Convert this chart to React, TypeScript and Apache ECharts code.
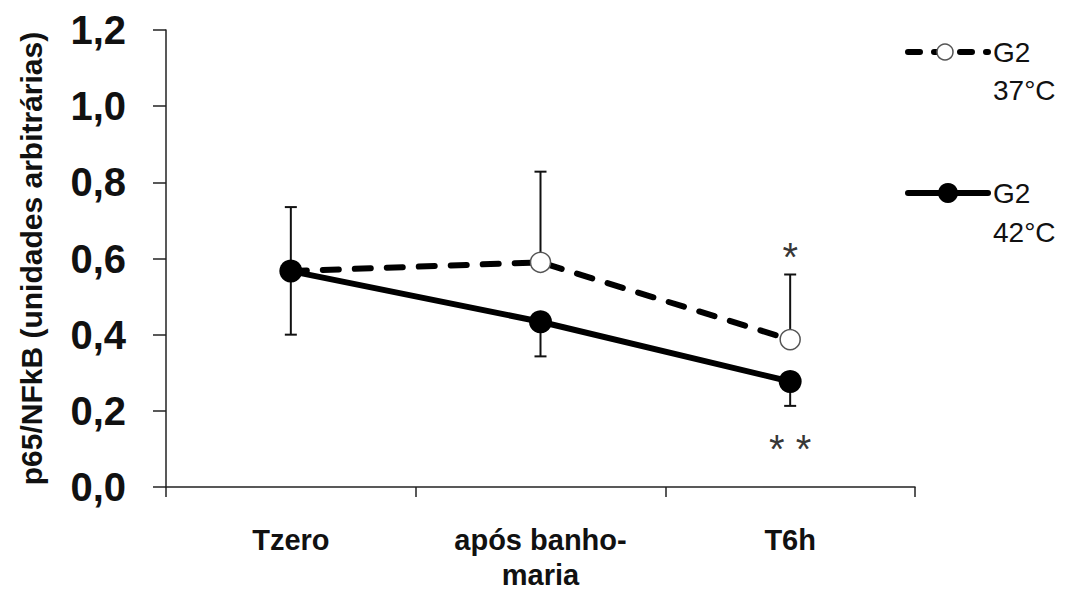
import React, { useEffect, useRef } from "react";
import * as echarts from "echarts";

const categories = ["Tzero", "após banho-\nmaria", "T6h"];
const yTicks = [0, 0.2, 0.4, 0.6, 0.8, 1.0, 1.2];
const g37Mean = [0.567, 0.59, 0.387];
const g37Upper = [0.735, 0.828, 0.558];
const g42Mean = [0.567, 0.434, 0.277];
const g42Lower = [0.4, 0.343, 0.213];
const star37 = [[2, 0.63]];
const star42 = [[2, 0.125]];
const seriesNames = ["G2\n37°C", "G2\n42°C"];

const FONT = "'Liberation Sans', Arial, sans-serif";

function errorRender(params: any, api: any) {
  const x = api.value(0);
  const from = api.coord([x, api.value(1)]);
  const to = api.coord([x, api.value(2)]);
  const hw = 6;
  const st = { stroke: "#111", lineWidth: 2 };
  return {
    type: "group",
    children: [
      { type: "line", shape: { x1: from[0], y1: from[1], x2: to[0], y2: to[1] }, style: st },
      { type: "line", shape: { x1: to[0] - hw, y1: to[1], x2: to[0] + hw, y2: to[1] }, style: st },
    ],
  };
}

export default function App() {
  const ref = useRef<HTMLDivElement>(null);
  useEffect(() => {
    if (!ref.current) return;
    const chart = echarts.init(ref.current, null, { renderer: "svg" });
    const err37 = g37Mean.map((v, i) => [i, v, g37Upper[i]]);
    const err42 = g42Mean.map((v, i) => [i, v, g42Lower[i]]);
    chart.setOption({
      animation: false,
      backgroundColor: "#fff",
      grid: { left: 166, right: 150, top: 30, bottom: 100 },
      xAxis: {
        type: "category",
        data: categories,
        boundaryGap: true,
        axisLine: { lineStyle: { color: "#222", width: 1.5 } },
        axisTick: { show: true, length: 10, lineStyle: { color: "#222", width: 1.5 } },
        axisLabel: {
          color: "#111",
          fontFamily: FONT,
          fontWeight: "bold",
          fontSize: 29,
          lineHeight: 35,
          margin: 35,
          interval: 0,
        },
      },
      yAxis: {
        type: "value",
        min: 0,
        max: 1.2,
        interval: 0.2,
        name: "p65/NFkB (unidades arbitrárias)",
        nameLocation: "middle",
        nameGap: 120,
        nameRotate: 90,
        nameTextStyle: { color: "#111", fontFamily: FONT, fontWeight: "bold", fontSize: 30 },
        splitLine: { show: false },
        axisLine: { show: true, lineStyle: { color: "#222", width: 1.5 } },
        axisTick: { show: true, length: 13, lineStyle: { color: "#222", width: 1.5 } },
        axisLabel: {
          color: "#111",
          fontFamily: FONT,
          fontWeight: "bold",
          fontSize: 40,
          margin: 40,
          formatter: (v: number) => (yTicks.includes(Math.round(v * 10) / 10) ? v.toFixed(1).replace(".", ",") : ""),
        },
      },
      series: [
        { type: "custom", name: "err37", data: err37, renderItem: errorRender, encode: { x: 0, y: [1, 2] }, z: 1 },
        { type: "custom", name: "err42", data: err42, renderItem: errorRender, encode: { x: 0, y: [1, 2] }, z: 1 },
        {
          type: "line",
          name: seriesNames[0],
          data: g37Mean,
          z: 3,
          symbol: "circle",
          symbolSize: 20,
          lineStyle: { color: "#000", width: 6, type: [16, 16], cap: "round" },
          itemStyle: { color: "#fff", borderColor: "#555", borderWidth: 1.5 },
        },
        {
          type: "line",
          name: seriesNames[1],
          data: g42Mean,
          z: 4,
          symbol: "circle",
          symbolSize: 23,
          lineStyle: { color: "#000", width: 6 },
          itemStyle: { color: "#000" },
        },
        {
          type: "scatter",
          data: star37,
          symbolSize: 0,
          z: 5,
          label: { show: true, position: "inside", offset: [0, 10], formatter: "*", color: "#000", fontSize: 40, fontFamily: FONT },
        },
        {
          type: "scatter",
          data: star42,
          symbolSize: 0,
          z: 5,
          label: { show: true, position: "inside", offset: [0, 10], formatter: "* *", color: "#000", fontSize: 40, fontFamily: FONT },
        },
      ],
      graphic: [
        { type: "line", shape: { x1: 908, y1: 52, x2: 988, y2: 52 }, style: { stroke: "#000", lineWidth: 6, lineDash: [12, 14], lineCap: "round" } },
        { type: "circle", shape: { cx: 945, cy: 52, r: 8 }, style: { fill: "#fff", stroke: "#555", lineWidth: 1.5 } },
        { type: "text", x: 993, y: 52, style: { text: "G2", font: `28px ${FONT}`, fill: "#111", verticalAlign: "middle" } },
        { type: "text", x: 993, y: 90, style: { text: "37°C", font: `28px ${FONT}`, fill: "#111", verticalAlign: "middle" } },
        { type: "line", shape: { x1: 908, y1: 193, x2: 988, y2: 193 }, style: { stroke: "#000", lineWidth: 6, lineCap: "round" } },
        { type: "circle", shape: { cx: 948, cy: 193, r: 10 }, style: { fill: "#000" } },
        { type: "text", x: 993, y: 193, style: { text: "G2", font: `28px ${FONT}`, fill: "#111", verticalAlign: "middle" } },
        { type: "text", x: 993, y: 232, style: { text: "42°C", font: `28px ${FONT}`, fill: "#111", verticalAlign: "middle" } },
      ],
    });
    return () => chart.dispose();
  }, []);
  return (
    <div
      ref={ref}
      style={{ position: "fixed", left: 0, top: 0, width: 1065, height: 592, background: "#fff" }}
    />
  );
}
